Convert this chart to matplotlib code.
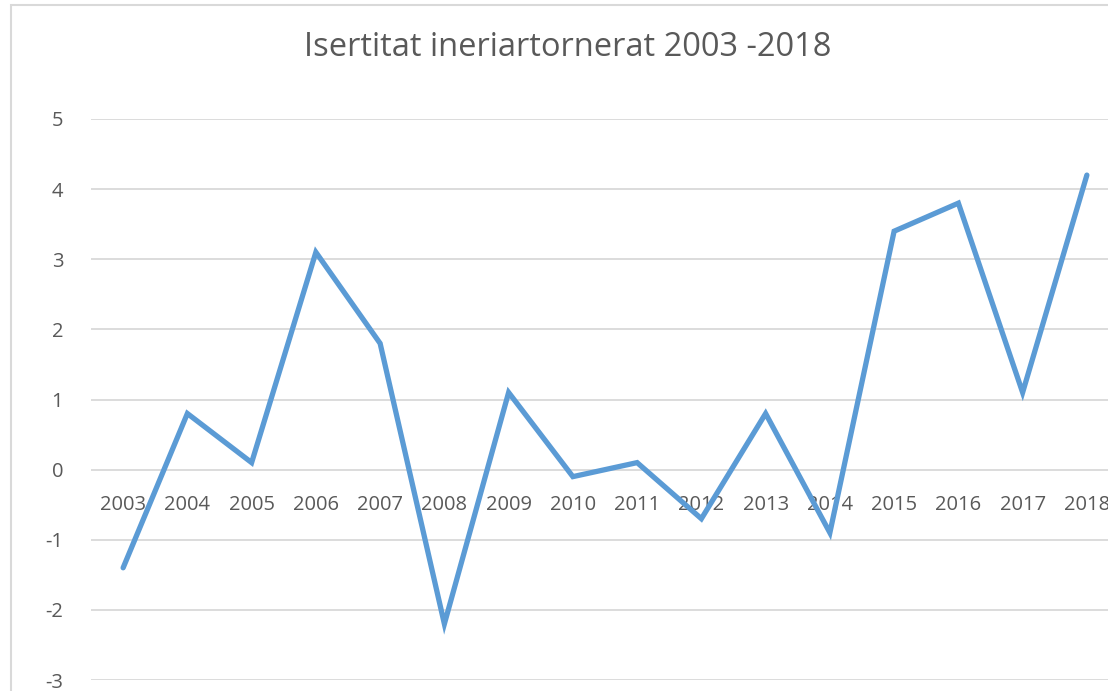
import matplotlib
matplotlib.use("Agg")
import matplotlib.pyplot as plt
from matplotlib.patches import Rectangle

plt.rcParams['font.family'] = ['Open Sans', 'DejaVu Sans']

years = ["2003", "2004", "2005", "2006", "2007", "2008", "2009", "2010",
         "2011", "2012", "2013", "2014", "2015", "2016", "2017", "2018"]
values = [-1.4, 0.8, 0.1, 3.1, 1.8, -2.2, 1.1, -0.1,
          0.1, -0.7, 0.8, -0.9, 3.4, 3.8, 1.1, 4.2]
y_ticks = [-3, -2, -1, 0, 1, 2, 3, 4, 5]

W, H = 1108, 691
fig = plt.figure(figsize=(W / 100, H / 100), dpi=100)
fig.patch.set_facecolor("white")

# chart border (cropped on right and bottom)
fig.add_artist(Rectangle((11 / W, -0.1), 1.2, 1 - 5 / H + 0.1, transform=fig.transFigure,
                         fill=False, edgecolor="#d9d9d9", linewidth=1.5))

ax = fig.add_axes([91 / W, 11 / H, (1119 - 91) / W, (680 - 119) / H])
x = list(range(len(years)))
ax.plot(x, values, color="#5b9bd5", linewidth=3.8, solid_joinstyle="miter",
        solid_capstyle="round", zorder=3)

ax.set_xlim(-0.5, len(years) - 0.5)
ax.set_ylim(-3, 5)
ax.set_yticks(y_ticks)
ax.set_yticklabels([str(v) for v in y_ticks])
ax.grid(axis="y", color="#d9d9d9", linewidth=1.3)
ax.set_axisbelow(True)
for s in ax.spines.values():
    s.set_visible(False)

ax.set_xticks(x)
ax.set_xticklabels(years)
ax.spines["bottom"].set_position(("data", 0))
ax.tick_params(axis="x", length=0, pad=18, labelsize=14.5, labelcolor="#595959")
ax.tick_params(axis="y", length=0, pad=20, labelsize=14.5, labelcolor="#595959")

fig.text(568 / W, 1 - 48 / H, "Isertitat ineriartornerat 2003 -2018",
         ha="center", va="center", fontsize=23.5, color="#595959")

fig.savefig("out.png", dpi=100)
